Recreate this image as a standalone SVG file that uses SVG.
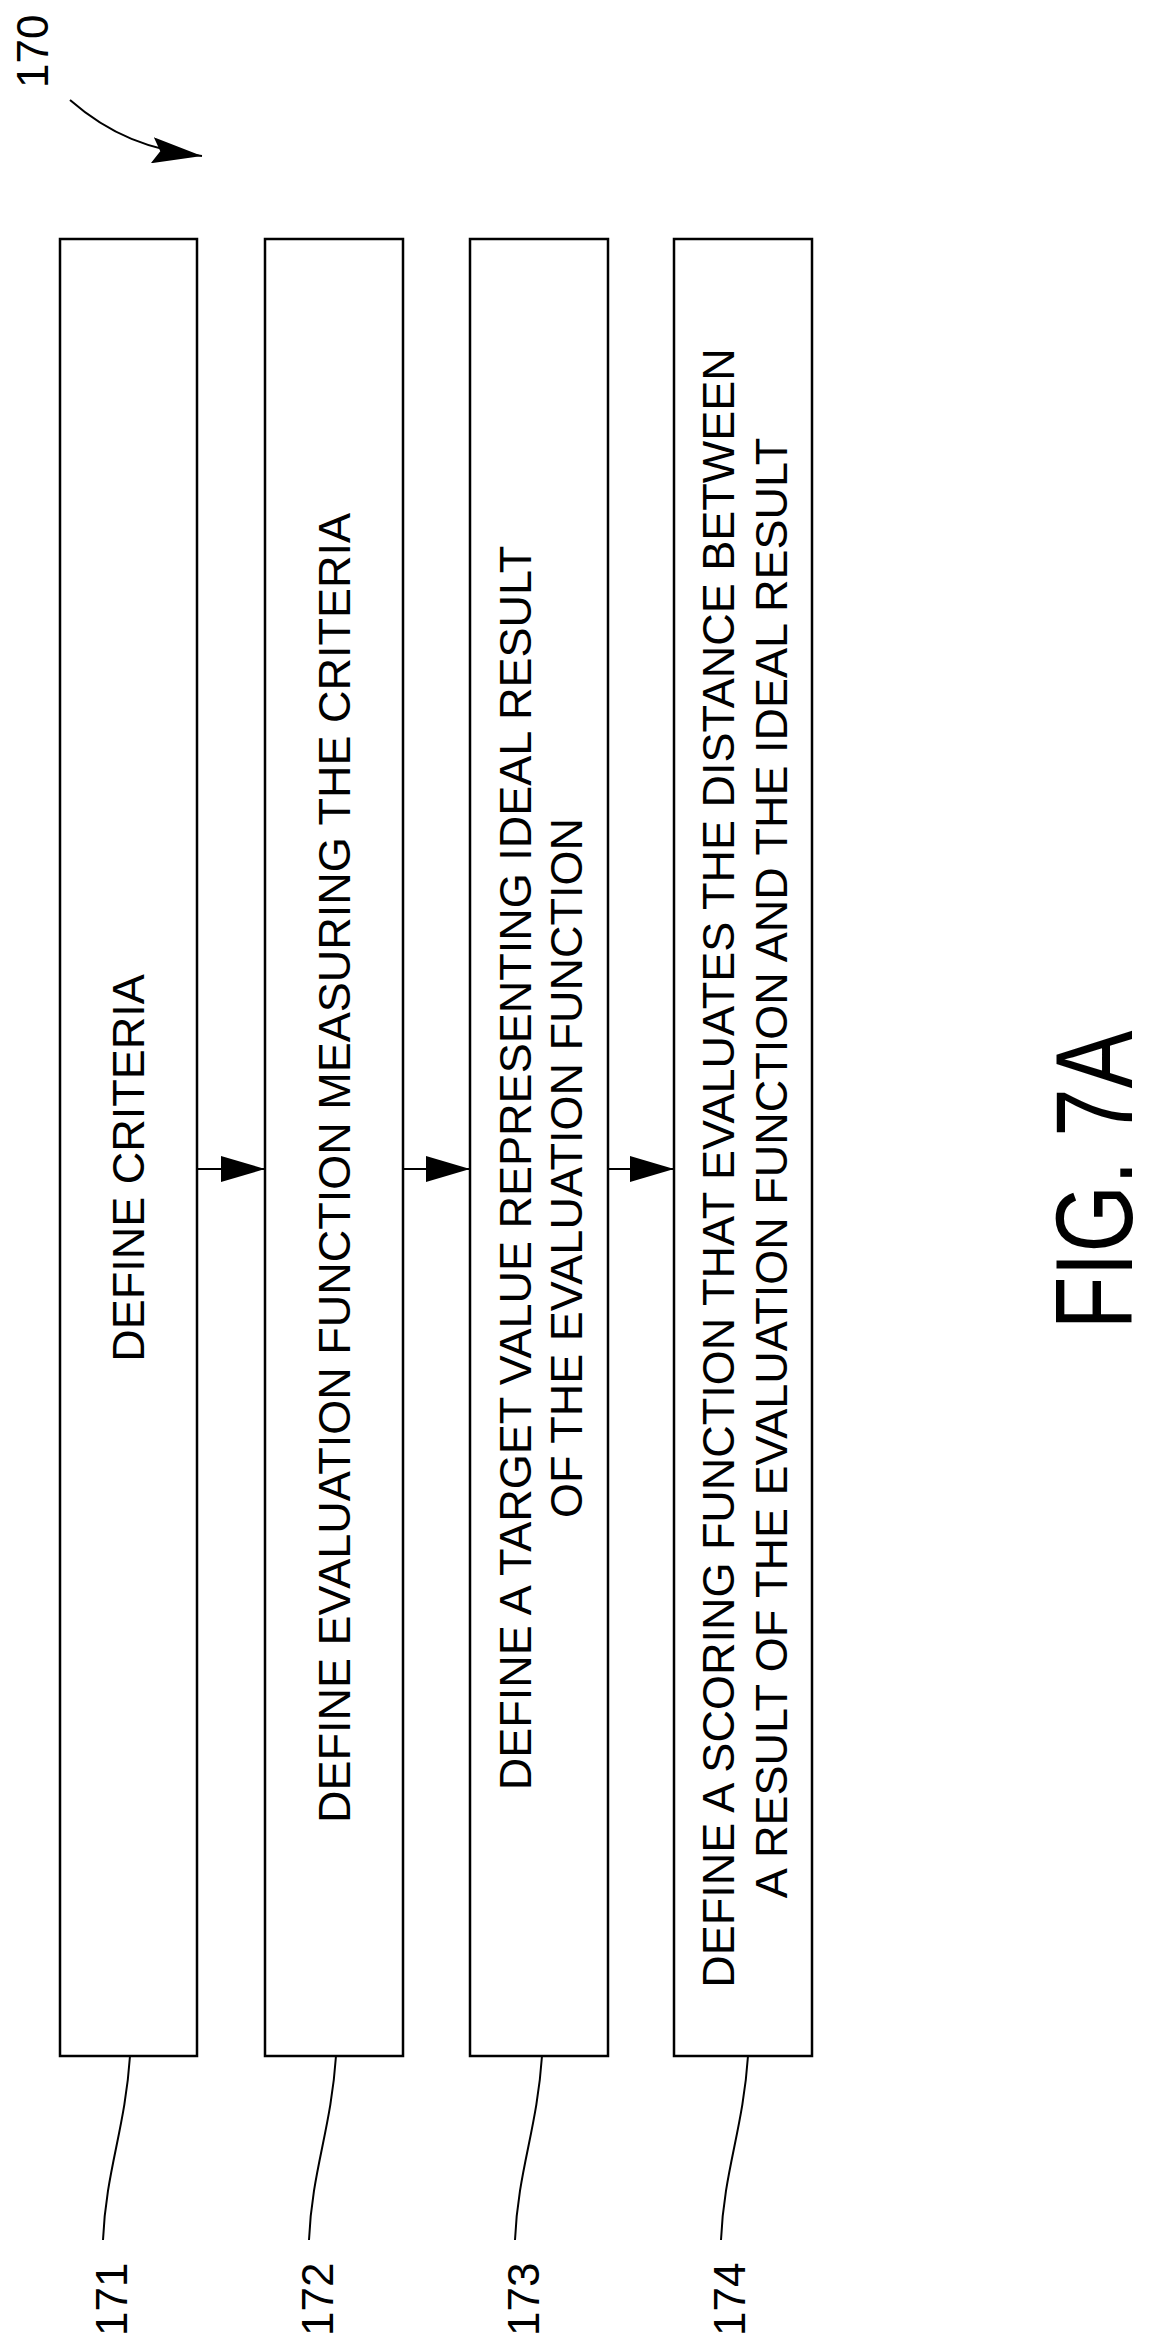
<svg xmlns="http://www.w3.org/2000/svg" width="1150" height="2342" viewBox="0 0 1150 2342">
<style>
.box{fill:#fff;stroke:#000;stroke-width:2.5}
.t{font-family:"Liberation Sans",Arial,sans-serif;font-size:45px;fill:#000;text-anchor:middle}
.ref{font-family:"Liberation Sans",Arial,sans-serif;font-size:44px;fill:#000;text-anchor:start}
.ln{fill:none;stroke:#000;stroke-width:2}
</style>
<defs>
<marker id="ah2" markerWidth="44" markerHeight="26" refX="44" refY="13" orient="auto" markerUnits="userSpaceOnUse"><path d="M0,0 L44,13 L0,26 Z"/></marker>
<marker id="ah3" markerWidth="50" markerHeight="26" refX="50" refY="13" orient="auto" markerUnits="userSpaceOnUse"><path d="M0,0 L50,13 L0,26 L8,13 Z"/></marker>
</defs>
<rect width="1150" height="2342" fill="#fff"/>
<g id="n171"><rect class="box" x="60" y="239" width="137" height="1817"/><text class="t" transform="translate(144,1168) rotate(-90)">DEFINE CRITERIA</text></g>
<g id="n172"><rect class="box" x="265" y="239" width="138" height="1817"/><text class="t" transform="translate(350,1168) rotate(-90)">DEFINE EVALUATION FUNCTION MEASURING THE CRITERIA</text></g>
<g id="n173"><rect class="box" x="470" y="239" width="138" height="1817"/><text class="t" transform="translate(531,1168) rotate(-90)">DEFINE A TARGET VALUE REPRESENTING IDEAL RESULT</text><text class="t" transform="translate(582,1168) rotate(-90)">OF THE EVALUATION FUNCTION</text></g>
<g id="n174"><rect class="box" x="674" y="239" width="138" height="1817"/><text class="t" transform="translate(734,1168) rotate(-90)">DEFINE A SCORING FUNCTION THAT EVALUATES THE DISTANCE BETWEEN</text><text class="t" transform="translate(787,1168) rotate(-90)">A RESULT OF THE EVALUATION FUNCTION AND THE IDEAL RESULT</text></g>
<g id="connectors">
<line class="ln" x1="197" y1="1169" x2="265" y2="1169" marker-end="url(#ah2)"/>
<line class="ln" x1="403" y1="1169" x2="470" y2="1169" marker-end="url(#ah2)"/>
<line class="ln" x1="608" y1="1169" x2="674" y2="1169" marker-end="url(#ah2)"/>
<path class="ln" d="M70,100 C110,135 150,150 202,156" marker-end="url(#ah3)"/>
<path class="ln" d="M130,2056 C125,2130 106,2170 103,2240"/>
<path class="ln" d="M336,2056 C331,2130 312,2170 309,2240"/>
<path class="ln" d="M542,2056 C537,2130 518,2170 515,2240"/>
<path class="ln" d="M748,2056 C743,2130 724,2170 721,2240"/>
</g>
<g id="labels">
<text class="ref" transform="translate(48,88) rotate(-90)">170</text>
<text class="ref" transform="translate(127,2336) rotate(-90)">171</text>
<text class="ref" transform="translate(333,2336) rotate(-90)">172</text>
<text class="ref" transform="translate(539,2336) rotate(-90)">173</text>
<text class="ref" transform="translate(745,2336) rotate(-90)">174</text>
<text class="t" style="font-size:110px" textLength="299" lengthAdjust="spacingAndGlyphs" transform="translate(1132,1180) rotate(-90)">FIG. 7A</text>
</g>
</svg>
